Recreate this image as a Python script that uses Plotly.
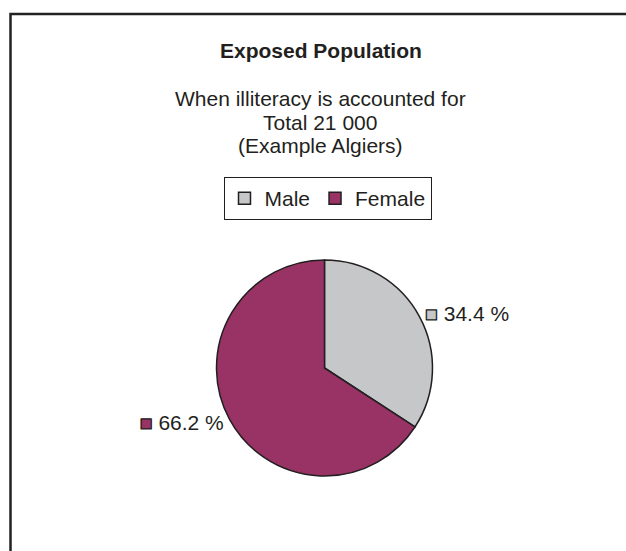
import plotly.graph_objects as go

labels = ["Male", "Female"]
values = [34.4, 66.2]
colors = ["#c6c7c9", "#993366"]
title_text = "Exposed Population"
subtitle_lines = ["When illiteracy is accounted for", "Total 21 000", "(Example Algiers)"]

W, H = 626, 551
FONT = "Liberation Sans, Arial, sans-serif"
INK = "#231f20"

def py(y):
    return 1 - y / H

def px(x):
    return x / W

templates = [
    "<span style='color:%s;stroke:%s;stroke-width:1.3px'>■</span> %%{value:.1f} %%" % (c, INK)
    for c in colors
]

fig = go.Figure(
    go.Pie(
        labels=labels,
        values=values,
        sort=False,
        direction="clockwise",
        rotation=0,
        marker=dict(colors=colors, line=dict(color=INK, width=1.5)),
        textposition="outside",
        texttemplate=templates,
        outsidetextfont=dict(family=FONT, size=21, color=INK),
        hoverinfo="label+value",
        domain=dict(x=[px(216), px(433)], y=[py(476), py(260)]),
        showlegend=True,
    )
)

annotations = [
    dict(text="<b>%s</b>" % title_text, x=px(321), y=py(50.5), xref="paper", yref="paper",
         xanchor="center", yanchor="middle", showarrow=False,
         font=dict(family=FONT, size=21, color=INK)),
]
for i, (line, yc) in enumerate(zip(subtitle_lines, [98.5, 122.5, 145.5])):
    annotations.append(dict(text=line, x=px(320), y=py(yc), xref="paper", yref="paper",
                            xanchor="center", yanchor="middle", showarrow=False,
                            font=dict(family=FONT, size=21, color=INK)))

fig.update_layout(
    width=W, height=H,
    margin=dict(l=0, r=0, t=0, b=0),
    paper_bgcolor="white", plot_bgcolor="white",
    font=dict(family=FONT, size=21, color=INK),
    annotations=annotations,
    legend=dict(
        orientation="h",
        x=px(327.5), y=py(177), xanchor="center", yanchor="top",
        bordercolor=INK, borderwidth=1,
        font=dict(family=FONT, size=21, color=INK),
        itemwidth=30,
        traceorder="normal",
    ),
    shapes=[dict(type="rect", xref="paper", yref="paper",
                 x0=px(10.5), x1=1.05, y0=-0.05, y1=py(14),
                 line=dict(color="#222", width=2.5), fillcolor="rgba(0,0,0,0)")],
)

fig.write_html("out.html")
